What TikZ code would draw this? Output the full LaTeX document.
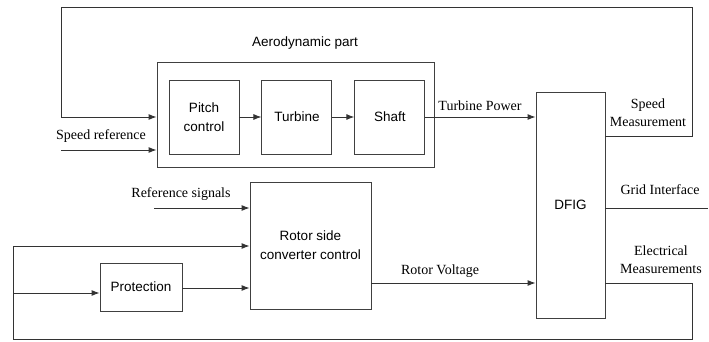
\documentclass[tikz,border=0pt]{standalone}
\usepackage{fontspec}
\setmainfont{Liberation Serif}
\setsansfont{Liberation Sans}
\usetikzlibrary{positioning, arrows.meta, calc}

\begin{document}
\begin{tikzpicture}[
  x=1pt, y=-1pt,
  >={Latex[length=8pt, width=6pt]},
  line width=0.9pt,
  every node/.style={font=\fontsize{14}{18}\selectfont},
  blk/.style    = {draw=black!75, align=center, font=\sffamily\fontsize{13.5}{19}\selectfont, inner sep=0pt},
  aero/.style   = {blk, minimum width=70pt, minimum height=74pt},
  lbl/.style    = {align=center, inner sep=0pt},
  arr/.style    = {->, draw=black!80},
  wire/.style   = {draw=black!80},
]
  \useasboundingbox (0,0) rectangle (709,342);
  % aerodynamic part
  \node[blk, minimum width=277pt, minimum height=105pt] (aer) at (295.5,114.5) {};
  \node[aero] (pitch) at (204,117) {Pitch\\control};
  \node[aero, right=22pt of pitch] (turb) {Turbine};
  \node[aero, right=22pt of turb]  (shaft) {Shaft};
  \node[lbl, font=\sffamily\fontsize{13.5}{19}\selectfont] (aertxt) at (305,43) {Aerodynamic part};
  % generator and converter
  \node[blk, minimum width=69pt, minimum height=226pt] (dfig) at (570.5,205) {DFIG};
  \node[blk, minimum width=121pt, minimum height=127pt] (rsc) at (310.5,245.5) {Rotor side\\converter control};
  \node[blk, minimum width=82pt, minimum height=48pt] (prot) at (141,287) {Protection};
  % free ends
  \coordinate (spref) at (61,150);
  \coordinate (refsig) at (154,208);
  \coordinate (grid) at (708,208);
  % connectors
  \foreach \a/\b in {pitch/turb, turb/shaft}
     \draw[arr] (\a) -- (\b);
  \draw[arr] (shaft.east) -- (dfig.west |- shaft.east);
  \draw[arr] (spref) -- (aer.west |- spref);
  \draw[arr] (dfig.east |- 0,136) -- (692,136) -- (692,7) -- (61,7) -- (61,117) -- (aer.west |- 0,117);
  \draw[wire] (dfig.east |- grid) -- (grid);
  \draw[arr] (refsig) -- (rsc.west |- refsig);
  \draw[arr] (rsc.east |- 0,283) -- (dfig.west |- 0,283);
  \draw[arr] (dfig.east |- 0,283) -- (692,283) -- (692,339) -- (13,339) -- (13,246) -- (rsc.west |- 0,246);
  \draw[arr] (13,293) -- (prot.west |- 0,293);
  \draw[arr] (prot.east |- 0,288) -- (rsc.west |- 0,288);
  % labels
  \node[lbl] (lsp)  at (101,136) {Speed reference};
  \node[lbl] (ltp)  at (480,106) {Turbine Power};
  \node[lbl] (lsm)  at (648,113) {Speed\\Measurement};
  \node[lbl] (lgi)  at (660,190) {Grid Interface};
  \node[lbl] (lrs)  at (181,194) {Reference signals};
  \node[lbl] (lrv)  at (440,271) {Rotor Voltage};
  \node[lbl] (lem)  at (661,260) {Electrical\\Measurements};
\end{tikzpicture}
\end{document}
